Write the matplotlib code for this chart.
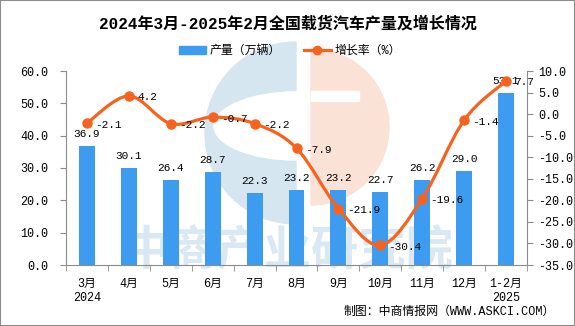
import matplotlib
matplotlib.use("Agg")
import matplotlib.pyplot as plt
from matplotlib.path import Path
from matplotlib.patches import PathPatch, Wedge, Ellipse, Rectangle, Patch
from matplotlib.lines import Line2D
from matplotlib.transforms import Affine2D

plt.rcParams["font.family"] = ["Liberation Mono", "Noto Sans CJK SC"]

months = ["3月\n2024", "4月", "5月", "6月", "7月", "8月", "9月", "10月", "11月", "12月", "1-2月\n2025"]
output = [36.9, 30.1, 26.4, 28.7, 22.3, 23.2, 23.2, 22.7, 26.2, 29.0, 53.1]
growth = [-2.1, 4.2, -2.2, -0.7, -2.2, -7.9, -21.9, -30.4, -19.6, -1.4, 7.7]

BAR = "#3d9cf0"
LINE = "#f7631f"
GRAY = "#8c8c8c"

W, H = 575, 326
fig = plt.figure(figsize=(W / 100, H / 100), dpi=100)

# pixel coords, y pointing down (for the watermark logo)
px = Affine2D().scale(0.01, -0.01).translate(0, H / 100) + fig.dpi_scale_trans

# watermark logo
wm = [
    Wedge((296, 133), 91, 90, 270, color="#d6e6f0"),
    Ellipse((296, 126), 164, 68, color="white"),
    Wedge((311, 127), 78, -90, 90, color="#fbe2d6"),
    Rectangle((311, 91), 48, 10, color="white"),
]
for p in wm:
    p.set_transform(px)
    p.set_zorder(-2)
    fig.add_artist(p)

fig.text(288 / W, 1 - 250 / H, "中商产业研究院", fontsize=34, color="#d9e8f2",
         family="Noto Sans CJK SC", weight="bold", ha="center", va="center", zorder=-1)

ax = fig.add_axes([66 / W, 1 - 265 / H, 461 / W, 194 / H])
ax.patch.set_visible(False)
ax2 = ax.twinx()

x = list(range(len(months)))

bars = ax.bar(x, output, width=0.38, color=BAR, zorder=2)
ax.bar_label(bars, labels=[f"{v:.1f}" for v in output], padding=5, fontsize=8)

ax.set_xlim(-0.5, len(months) - 0.5)
ax.set_ylim(0, 60)
ax.set_yticks(range(0, 61, 10))
ax.set_yticklabels([f"{v:.1f}" for v in range(0, 61, 10)])
ax.set_xticks(x)
ax.set_xticklabels(months, linespacing=1.3)
ax.set_xticks([i - 0.5 for i in range(len(months) + 1)], minor=True)
ax.tick_params(axis="x", which="major", length=0, pad=9, labelsize=8.5)
ax.tick_params(axis="x", which="minor", length=4, color=GRAY)
ax.tick_params(axis="y", length=4, color=GRAY, pad=9, labelsize=8.5)

ax2.set_ylim(-35, 10)
ax2.set_yticks(range(-35, 11, 5))
ax2.set_yticklabels([f"{v:.1f}" for v in range(-35, 11, 5)])
ax2.tick_params(axis="y", length=4, color=GRAY, pad=4, labelsize=8.5)

for a in (ax, ax2):
    a.spines["top"].set_visible(False)
ax.spines["right"].set_visible(False)
ax.spines["left"].set_color(GRAY)
ax.spines["bottom"].set_color(GRAY)
ax2.spines["left"].set_visible(False)
ax2.spines["bottom"].set_visible(False)
ax2.spines["right"].set_color(GRAY)

# smoothed growth line (Catmull-Rom as cubic Bezier)
pts = list(zip(x, growth))
verts = [pts[0]]
codes = [Path.MOVETO]
for i in range(len(pts) - 1):
    p0 = pts[i - 1] if i > 0 else pts[i]
    p1, p2 = pts[i], pts[i + 1]
    p3 = pts[i + 2] if i + 2 < len(pts) else pts[i + 1]
    c1 = (p1[0] + (p2[0] - p0[0]) / 6, p1[1] + (p2[1] - p0[1]) / 6)
    c2 = (p2[0] - (p3[0] - p1[0]) / 6, p2[1] - (p3[1] - p1[1]) / 6)
    verts += [c1, c2, p2]
    codes += [Path.CURVE4] * 3
ax2.add_patch(PathPatch(Path(verts, codes), fill=False, ec=LINE, lw=2.3, zorder=3))
ax2.plot(x, growth, "o", color=LINE, ms=6.5, zorder=4)
for xi, g in zip(x, growth):
    ax2.annotate(f"{g:.1f}", (xi, g), xytext=(6, -1), textcoords="offset points",
                 ha="left", va="center", fontsize=8, zorder=5)

handles = [Patch(color=BAR), Line2D([], [], color=LINE, lw=2.3, marker="o", ms=6)]
fig.legend(handles, ["产量（万辆）", "增长率（%）"], loc="center",
           bbox_to_anchor=(290 / W, 1 - 51 / H), ncol=2, frameon=False,
           fontsize=8.6, handlelength=2.2, columnspacing=2.0, handletextpad=0.3)

fig.text(288 / W, 1 - 24 / H, "2024年3月-2025年2月全国载货汽车产量及增长情况",
         fontsize=11.5, weight="bold", ha="center", va="center")
fig.text(555 / W, 1 - 312 / H, "制图：中商情报网（WWW.ASKCI.COM）",
         fontsize=8.6, ha="right", va="center")

fig.add_artist(Rectangle((0, 0), 1, 1, transform=fig.transFigure, fill=False,
                         ec=GRAY, lw=1.5))

fig.savefig("out.png", dpi=100)
